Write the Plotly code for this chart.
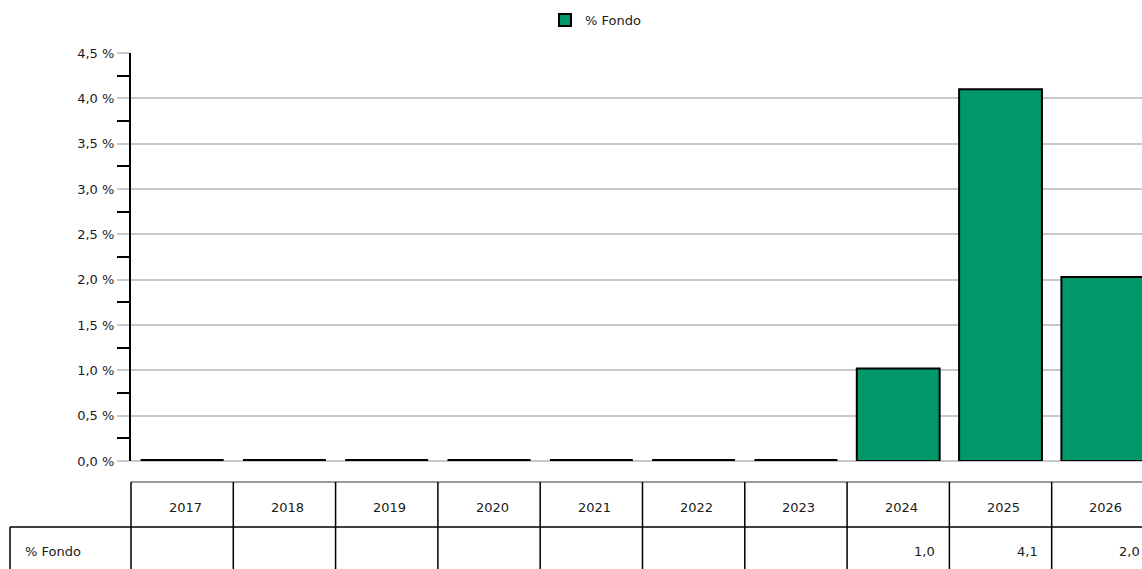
import plotly.graph_objects as go

# Annual share of the fund, in percent
years = ["2017", "2018", "2019", "2020", "2021", "2022", "2023", "2024", "2025", "2026"]
fondo = [0.0, 0.0, 0.0, 0.0, 0.0, 0.0, 0.0, 1.02, 4.10, 2.03]
series_name = "% Fondo"
y_ticks = [0.0, 0.5, 1.0, 1.5, 2.0, 2.5, 3.0, 3.5, 4.0, 4.5]

GREEN = "#00976A"
FONT = "DejaVu Sans"
TXT = "#1a1a1a"

W, H = 1142, 569
ML, MR, MT, MB = 131, 0, 53, 108
x_range = [-0.5, 9.383]          # last column runs past the right edge
n_vis = x_range[1] - x_range[0]
plot_w = W - ML - MR
plot_h = H - MT - MB


def px_to_paper_y(py):
    return (H - MB - py) / plot_h


def idx_to_paper_x(v):
    return (v - x_range[0]) / n_vis


def fmt(v):
    return f"{v:.1f}".replace(".", ",")


fig = go.Figure()
fig.add_trace(go.Bar(
    x=years, y=fondo, name=series_name,
    marker=dict(color=GREEN, line=dict(color="#000000", width=2)),
    hoverinfo="skip",
))

shapes = []
# zero-valued bars still show their outline on the baseline
half = (1 - 0.19) / 2
for i, v in enumerate(fondo):
    if v == 0:
        shapes.append(dict(type="line", xref="x", yref="y",
                           x0=i - half, x1=i + half, y0=v, y1=v,
                           line=dict(color="#000000", width=4)))

# data table under the chart
top_y = px_to_paper_y(482)
mid_y = px_to_paper_y(527)
bot_y = px_to_paper_y(575)
left_label_x = (10 - ML) / plot_w
shapes.append(dict(type="line", xref="paper", yref="paper",
                   x0=0, x1=1.05, y0=top_y, y1=top_y,
                   line=dict(color="#777777", width=1.5)))
shapes.append(dict(type="line", xref="paper", yref="paper",
                   x0=left_label_x, x1=1.05, y0=mid_y, y1=mid_y,
                   line=dict(color="#000000", width=1.5)))
shapes.append(dict(type="line", xref="paper", yref="paper",
                   x0=left_label_x, x1=left_label_x, y0=mid_y, y1=bot_y,
                   line=dict(color="#000000", width=1.5)))
for b in range(len(years) + 1):
    xb = idx_to_paper_x(b - 0.5)
    shapes.append(dict(type="line", xref="paper", yref="paper",
                       x0=xb, x1=xb, y0=top_y, y1=bot_y,
                       line=dict(color="#000000", width=1.5)))

annotations = []
head_y = px_to_paper_y(507)
val_y = px_to_paper_y(551)
col_px = plot_w / n_vis
for i, yr in enumerate(years):
    # category axes take annotation positions as serial indices
    annotations.append(dict(x=i, y=head_y, xref="x", yref="paper", text=yr,
                            showarrow=False, xanchor="center", yanchor="middle",
                            xshift=3,
                            font=dict(family=FONT, size=13, color=TXT)))
    if fondo[i] != 0:
        annotations.append(dict(x=i, y=val_y, xref="x", yref="paper",
                                text=fmt(fondo[i]), showarrow=False,
                                xanchor="right", yanchor="middle",
                                xshift=col_px / 2 - 12,
                                font=dict(family=FONT, size=13, color=TXT)))
annotations.append(dict(x=(23 - ML) / plot_w, y=val_y, xref="paper", yref="paper",
                        text=series_name, showarrow=False,
                        xanchor="left", yanchor="middle",
                        font=dict(family=FONT, size=13, color=TXT)))

fig.update_layout(
    width=W, height=H,
    margin=dict(l=ML, r=MR, t=MT, b=MB, pad=0),
    paper_bgcolor="white", plot_bgcolor="white",
    separators=",.",
    bargap=0.19,
    font=dict(family=FONT, size=13, color=TXT),
    showlegend=True,
    legend=dict(orientation="h", x=(545 - ML) / plot_w, xanchor="left",
                y=px_to_paper_y(20), yanchor="middle",
                font=dict(family=FONT, size=13, color=TXT),
                itemsizing="constant"),
    xaxis=dict(type="category", range=x_range, showticklabels=False,
               showgrid=False, zeroline=False, showline=False, ticks=""),
    yaxis=dict(range=[0, 4.5], tickvals=y_ticks,
               ticktext=[fmt(v) + " %" for v in y_ticks],
               showgrid=True, gridcolor="#c8c8c8", gridwidth=1.5,
               zeroline=True, zerolinecolor="#c8c8c8", zerolinewidth=1.5,
               showline=True, linecolor="#000000", linewidth=2,
               ticks="outside", ticklen=12, tickwidth=1.5, tickcolor="#c8c8c8",
               tickfont=dict(family=FONT, size=13, color=TXT),
               minor=dict(tickvals=[v + 0.25 for v in y_ticks[:-1]],
                          ticks="outside", ticklen=12, tickwidth=2,
                          tickcolor="#000000", showgrid=False)),
    shapes=shapes,
    annotations=annotations,
)

fig.write_html("out.html")
